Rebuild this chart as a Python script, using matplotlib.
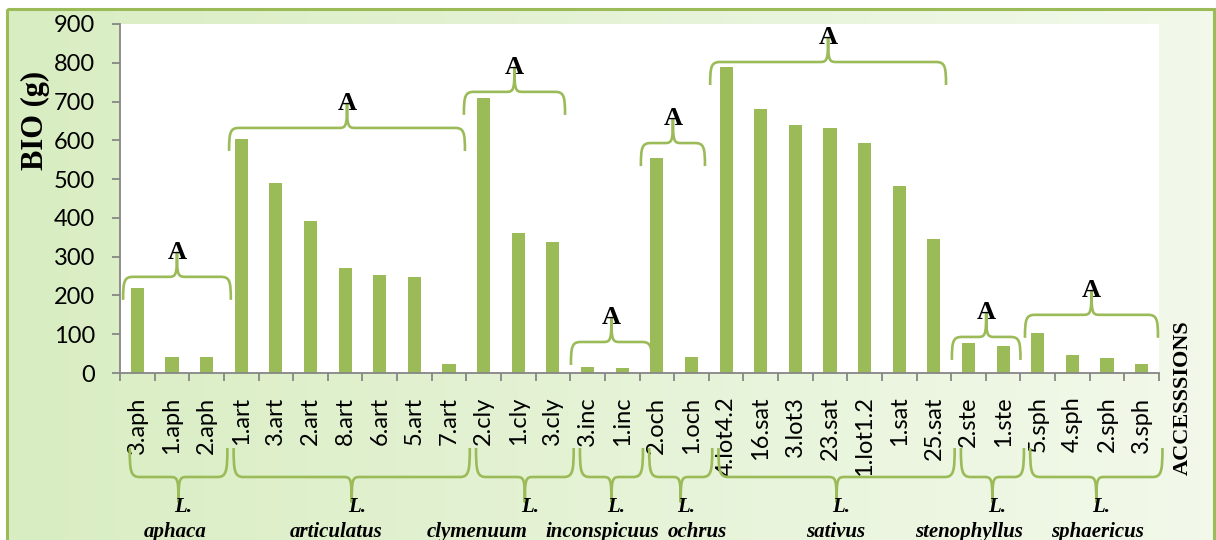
import numpy as np
import matplotlib
matplotlib.use("Agg")
import matplotlib.pyplot as plt
from matplotlib.path import Path
from matplotlib.patches import PathPatch, Rectangle
from matplotlib.transforms import IdentityTransform

# ---------------------------------------------------------------- data
species = ["aphaca", "articulatus", "clymenuum", "inconspicuus",
           "ochrus", "sativus", "stenophyllus", "sphaericus"]
group_sizes = [3, 7, 3, 2, 2, 7, 2, 4]
group_letters = ["A", "A", "A", "A", "A", "A", "A", "A"]

accessions = ["3.aph", "1.aph", "2.aph",
              "1.art", "3.art", "2.art", "8.art", "6.art", "5.art", "7.art",
              "2.cly", "1.cly", "3.cly",
              "3.inc", "1.inc",
              "2.och", "1.och",
              "4.lot4.2", "16.sat", "3.lot3", "23.sat", "1.lot1.2", "1.sat", "25.sat",
              "2.ste", "1.ste",
              "5.sph", "4.sph", "2.sph", "3.sph"]
biomass = [220, 42, 42,
           603, 490, 393, 270, 253, 248, 22,
           710, 360, 338,
           15, 12,
           555, 40,
           790, 680, 640, 632, 592, 482, 345,
           77, 70,
           102, 46, 38, 22]

y_ticks = [0, 100, 200, 300, 400, 500, 600, 700, 800, 900]

# ---------------------------------------------------------------- layout
W, H, DPI = 1216, 540, 100
GREEN = "#9BBB59"
AXIS_GREY = "#868686"
SERIF = "Liberation Serif"
SANS = "Lato"

# height (in BIO units) of the bracket over each species
brace_level = [248, 632, 725, 80, 593, 802, 93, 150]
# how far (in bar slots) each upper bracket reaches past its first / last bar
brace_left = [0.41, 0.35, 0.57, 0.48, 0.46, 0.46, 0.48, 0.37]
brace_right = [0.70, 0.46, 0.35, 0.86, 0.39, 0.35, 0.50, 0.47]
# horizontal nudge (px) of each species name under its bracket
name_shift = [-3, -16, -48, -9, 17, -1, -23, 1]

fig = plt.figure(figsize=(W / DPI, H / DPI), dpi=DPI)
fig.patch.set_facecolor("white")

# shaded chart-area background with its green frame
bg = fig.add_axes([0, 0, 1, 1], zorder=0)
c0 = np.array([0.85, 0.93, 0.76])
c1 = np.array([0.95, 0.975, 0.92])
t = np.linspace(0, 1, 256)
grad = c0[None, None, :] * (1 - t)[None, :, None] + c1[None, None, :] * t[None, :, None]
bg.imshow(grad, extent=[7, 1214, H + 20, 9], aspect="auto", interpolation="bilinear")
bg.add_patch(Rectangle((7, 9), 1207, 600, fill=False, edgecolor=GREEN, lw=2.2))
bg.set_xlim(0, W)
bg.set_ylim(H, 0)
bg.axis("off")

# plot area
ax = fig.add_axes([120 / W, (H - 373) / H, (1159 - 120) / W, (373 - 24) / H], zorder=1)
ax.set_facecolor("white")
x = np.arange(len(biomass))
ax.bar(x, biomass, width=0.38, color=GREEN, zorder=2)
ax.set_xlim(-0.5, len(biomass) - 0.5)
ax.set_ylim(0, 900)

for side in ("top", "right"):
    ax.spines[side].set_visible(False)
for side in ("left", "bottom"):
    ax.spines[side].set_color(AXIS_GREY)
    ax.spines[side].set_linewidth(1.3)

ax.set_yticks(y_ticks)
ax.set_yticklabels([str(v) for v in y_ticks], fontfamily=SANS, fontsize=17)
ax.tick_params(axis="y", length=6, width=1.3, color=AXIS_GREY, pad=12)

ax.set_xticks(x)
ax.set_xticklabels(accessions, rotation=90, fontfamily=SANS, fontsize=17)
ax.tick_params(axis="x", which="major", length=0, pad=17)
ax.set_xticks(np.arange(-0.5, len(biomass), 1.0), minor=True)
ax.tick_params(axis="x", which="minor", length=6, width=1.3, color=AXIS_GREY)


def brace(x0, x1, y, arm, tip, s):
    """Curly bracket in display pixels; s=+1 points up, s=-1 points down."""
    xm = (x0 + x1) / 2.0
    r, r2 = 10.0, 8.0
    verts = [(x0, y - s * arm), (x0, y - s * arm * 0.2), (x0 + 1, y), (x0 + r, y),
             (xm - r2, y),
             (xm - 1, y), (xm, y + s * 2), (xm, y + s * tip),
             (xm, y + s * 2), (xm + 1, y), (xm + r2, y),
             (x1 - r, y),
             (x1 - 1, y), (x1, y - s * arm * 0.2), (x1, y - s * arm)]
    codes = [Path.MOVETO, Path.CURVE4, Path.CURVE4, Path.CURVE4,
             Path.LINETO,
             Path.CURVE4, Path.CURVE4, Path.CURVE4,
             Path.CURVE4, Path.CURVE4, Path.CURVE4,
             Path.LINETO,
             Path.CURVE4, Path.CURVE4, Path.CURVE4]
    fig.add_artist(PathPatch(Path(verts, codes), transform=IdentityTransform(),
                             fill=False, edgecolor=GREEN, lw=1.9, zorder=3,
                             capstyle="butt", joinstyle="round"))
    return xm


starts = np.concatenate([[0], np.cumsum(group_sizes)[:-1]])
for i, (s0, n) in enumerate(zip(starts, group_sizes)):
    first, last = s0, s0 + n - 1

    # bracket over the bars with its significance letter
    xa = ax.transData.transform((first - brace_left[i], brace_level[i]))
    xb = ax.transData.transform((last + brace_right[i], brace_level[i]))
    xm = brace(xa[0], xb[0], xa[1], 23, 24, +1)
    fig.text(xm / W, (xa[1] + 18) / H, group_letters[i], ha="center", va="baseline",
             fontfamily=SERIF, fontweight="bold", fontsize=19, zorder=4)

    # bracket under the accession labels with the species name
    xa = ax.transData.transform((first - 0.22, 0))[0]
    xb = ax.transData.transform((last + 0.6, 0))[0]
    yb = H - 477
    xm = brace(xa, xb, yb, 29, 25, -1)
    fig.text((xm + 5) / W, (H - 507) / H, "L.", ha="center", va="center",
             fontfamily=SERIF, fontweight="bold", style="italic", fontsize=15)
    fig.text((xm + name_shift[i]) / W, 3 / H, species[i], ha="center", va="baseline",
             fontfamily=SERIF, fontweight="bold", style="italic", fontsize=15)

fig.text(35 / W, (H - 120) / H, "BIO (g)", rotation=90, ha="center", va="center",
         fontfamily=SERIF, fontweight="bold", fontsize=22)
fig.text(1183 / W, (H - 398) / H, "ACCESSSIONS", rotation=90, ha="center", va="center",
         fontfamily=SERIF, fontweight="bold", fontsize=16)

fig.savefig("out.png", dpi=DPI)
